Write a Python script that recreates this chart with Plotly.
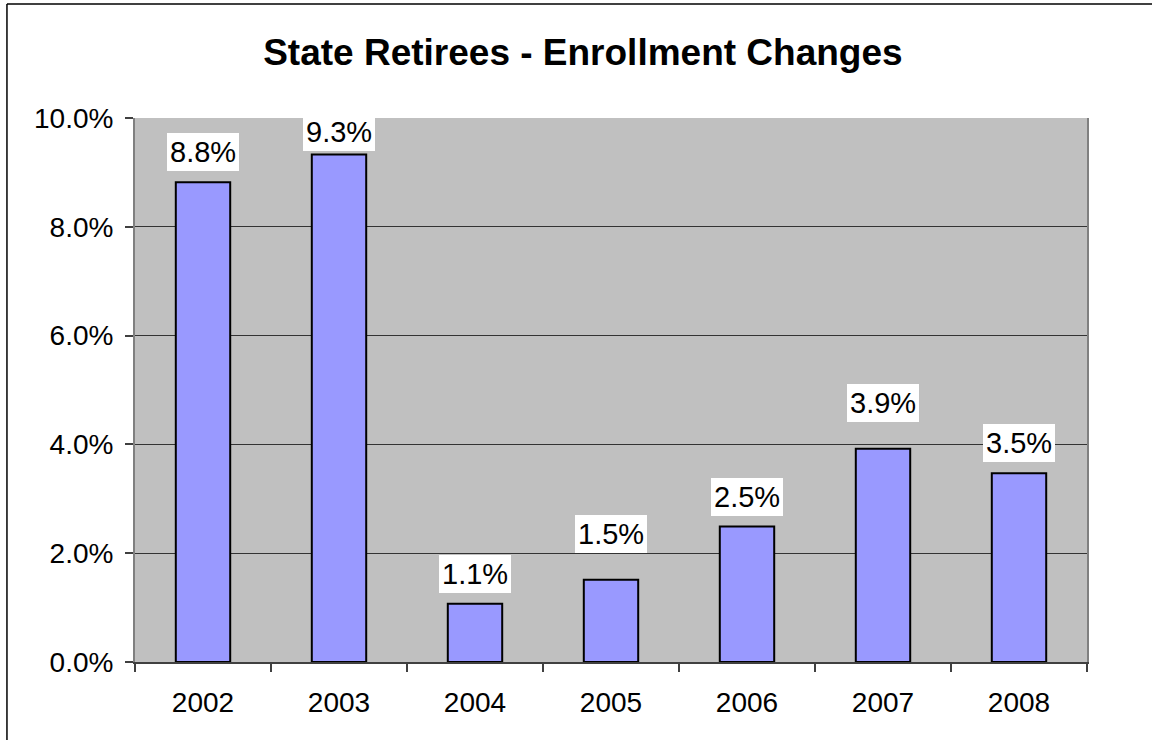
import plotly.graph_objects as go

years = ["2002", "2003", "2004", "2005", "2006", "2007", "2008"]
changes = [0.0882, 0.0933, 0.0107, 0.0151, 0.0249, 0.0392, 0.0347]
labels = ["8.8%", "9.3%", "1.1%", "1.5%", "2.5%", "3.9%", "3.5%"]
y_ticks = [0.0, 0.02, 0.04, 0.06, 0.08, 0.10]

# label placement (pixels above bar top), as in the reference layout
label_gap = [11, 3, 11, 27, 11, 27, 11]

FONT = "Liberation Sans, Arial, sans-serif"

fig = go.Figure()
fig.add_trace(go.Bar(
    x=years, y=changes,
    marker=dict(color="#9999FF", line=dict(color="black", width=2)),
    width=0.4,
    hoverinfo="skip",
))

for i, (v, lab) in enumerate(zip(changes, labels)):
    fig.add_annotation(
        x=i, y=v, text=lab, showarrow=False,
        yanchor="bottom", yshift=label_gap[i],
        bgcolor="white", borderpad=3, borderwidth=0,
        font=dict(family=FONT, size=29, color="black"),
    )

# outer chart border (top and left visible)
fig.add_shape(type="line", xref="paper", yref="paper",
              x0=-0.1345, x1=1.2, y0=1.2096, y1=1.2096,
              line=dict(color="black", width=1.5))
fig.add_shape(type="line", xref="paper", yref="paper",
              x0=-0.1345, x1=-0.1345, y0=1.2096, y1=-0.3,
              line=dict(color="black", width=1.5))

fig.update_layout(
    width=1152, height=740,
    margin=dict(l=135, r=65, t=118, b=78, autoexpand=False),
    paper_bgcolor="white",
    plot_bgcolor="#C0C0C0",
    showlegend=False,
    title=dict(text="<b>State Retirees - Enrollment Changes</b>",
               x=0.506, xanchor="center", y=0.93, yanchor="middle",
               font=dict(family=FONT, size=37, color="black")),
    font=dict(family=FONT, color="black"),
    bargap=0.6,
)
fig.update_xaxes(
    type="category", range=[-0.5, 6.5], tickson="boundaries",
    ticks="outside", ticklen=8, tickcolor="#404040", tickwidth=1.5,
    showline=True, linecolor="#404040", linewidth=2, mirror=False,
    showgrid=False, tickangle=0,
    tickfont=dict(family=FONT, size=28, color="black"),
    ticklabelstandoff=14,
)
fig.update_yaxes(
    range=[0, 0.10], tickvals=y_ticks, tickformat=".1%",
    ticks="outside", ticklen=8, tickcolor="#404040", tickwidth=1.5,
    showline=True, linecolor="#808080", linewidth=2, mirror=True,
    showgrid=True, gridcolor="#333333", gridwidth=1,
    zeroline=False,
    tickfont=dict(family=FONT, size=28, color="black"),
    ticklabelstandoff=6,
)

fig.write_html("out.html")
